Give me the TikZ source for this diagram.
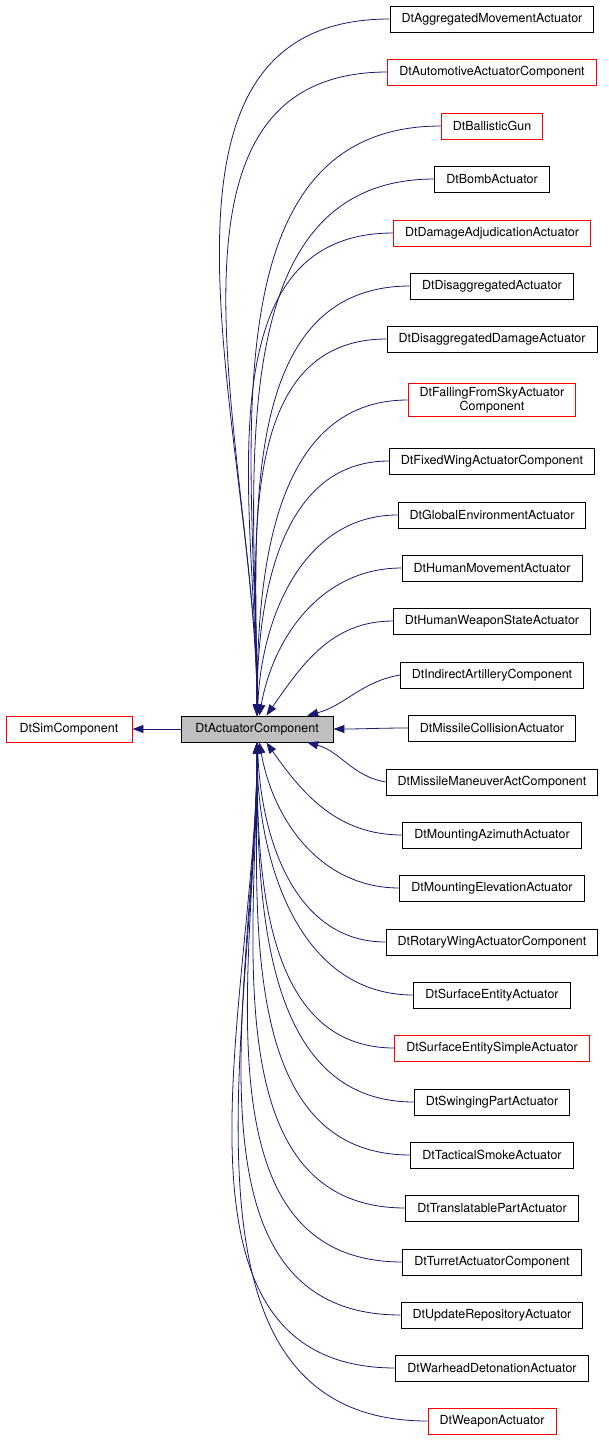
\documentclass[tikz,border=0pt]{standalone}
\usepackage{fontspec}
\setmainfont{TeX Gyre Heros}
\usetikzlibrary{arrows.meta,positioning}
\definecolor{edgeblue}{HTML}{191970}
\begin{document}
\begin{tikzpicture}[x=1pt,y=-1pt,>={Triangle[length=11pt,width=8pt]}]
	\tikzstyle{cls}=[draw=black,rectangle,fill=white,line width=0.9pt,
	minimum height=26pt,inner xsep=11.5pt,
	font=\fontsize{12.5}{14}\selectfont,align=center
	]
	\tikzstyle{b}=[cls];
	\tikzstyle{r}=[cls, draw=red];
	\tikzstyle{edge}=[draw=edgeblue,line width=0.8pt,->];
\useasboundingbox (0,0) rectangle (608,1443);
\node[cls,fill=black!25,minimum width=152pt](act) at (257,729){DtActuatorComponent};
\node[r,minimum width=126pt](sim) at (69,729){DtSimComponent};
\draw[edge] (act) -- (sim);

\foreach \k/\y/\s/\t/\o/\i in {
 1/19/b/DtAggregatedMovementActuator/180/90,
 2/72/r/DtAutomotiveActuatorComponent/180/90,
 3/126/r/DtBallisticGun/180/90,
 4/179/b/DtBombActuator/180/90,
 5/233/r/DtDamageAdjudicationActuator/180/90,
 6/286/b/DtDisaggregatedActuator/180/90,
 7/339/b/DtDisaggregatedDamageActuator/180/90,
 8/400/r/{DtFallingFromSkyActuator\\Component}/180/90,
 9/461/b/DtFixedWingActuatorComponent/180/90,
 10/515/b/DtGlobalEnvironmentActuator/180/88,
 11/568/b/DtHumanMovementActuator/180/80,
 12/621/b/DtHumanWeaponStateActuator/180/55,
 13/675/b/DtIndirectArtilleryComponent/190/15,
 14/728/b/DtMissileCollisionActuator/180/0,
 15/782/b/DtMissileManeuverActComponent/170/-15,
 16/835/b/DtMountingAzimuthActuator/180/-55,
 17/888/b/DtMountingElevationActuator/180/-80,
 18/942/b/DtRotaryWingActuatorComponent/180/-88,
 19/995/b/DtSurfaceEntityActuator/180/-90,
 20/1048/r/DtSurfaceEntitySimpleActuator/180/-90,
 21/1102/b/DtSwingingPartActuator/180/-90,
 22/1155/b/DtTacticalSmokeActuator/180/-90,
 23/1208/b/DtTranslatablePartActuator/180/-90,
 24/1262/b/DtTurretActuatorComponent/180/-90,
 25/1315/b/DtUpdateRepositoryActuator/180/-90,
 26/1368/b/DtWarheadDetonationActuator/180/-90,
 27/1421/r/DtWeaponActuator/180/-90}
{
  \node[\s](c\k) at (492,\y){\t};
  \draw[edge] (c\k.west) to[out=\o,in=\i] (act);
}
\end{tikzpicture}
\end{document}
